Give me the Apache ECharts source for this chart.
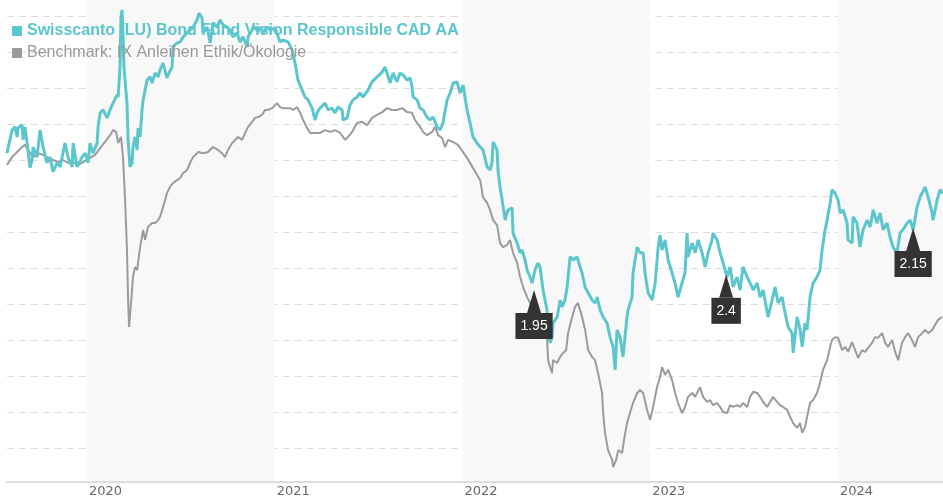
<!DOCTYPE html>
<html>
<head>
<meta charset="utf-8">
<script src="https://cdn.jsdelivr.net/npm/echarts@6/dist/echarts.min.js"></script>
<style>
html, body { margin: 0; padding: 0; background: #fff; }
#main { width: 943px; height: 500px; }
</style>
</head>
<body>
<div id="main"></div>
<script>
// dates as decimal years, values as indexed performance (no y labels in the original)
var fundName = 'Swisscanto (LU) Bond Fund Vision Responsible CAD AA';
var benchName = 'Benchmark: IX Anleihen Ethik/Ökologie';

var fund = [
  [2019.574,9.19],[2019.601,9.83],[2019.617,9.92],[2019.628,9.64],[2019.633,9.89],[2019.654,9.97],[2019.660,9.56],[2019.670,9.92],[2019.681,9.47],[2019.697,8.78],[2019.707,9.00],[2019.713,9.36],[2019.734,9.08],[2019.750,9.83],[2019.766,9.36],[2019.787,8.92],[2019.803,9.08],[2019.819,8.67],[2019.841,8.92],[2019.857,8.81],[2019.883,9.47],[2019.899,9.08],[2019.921,8.81],[2019.926,9.47],[2019.947,8.81],[2019.974,9.08],[2019.990,9.19],
  [2020.006,8.92],[2020.016,9.47],[2020.032,9.19],[2020.054,9.47],[2020.059,9.92],[2020.070,10.31],[2020.086,10.39],[2020.107,10.17],[2020.123,10.39],[2020.139,10.58],[2020.160,10.81],[2020.166,10.75],[2020.176,11.58],[2020.181,12.97],[2020.187,13.17],[2020.197,11.58],[2020.213,10.58],[2020.219,9.56],[2020.229,8.81],[2020.240,8.92],[2020.245,9.36],[2020.256,9.64],[2020.267,9.28],[2020.272,9.89],[2020.283,9.64],[2020.293,10.39],[2020.299,10.67],[2020.320,11.22],[2020.336,11.31],[2020.347,11.14],[2020.363,11.42],[2020.379,11.31],[2020.389,11.50],
  [2020.405,11.69],[2020.426,11.28],[2020.432,11.36],[2020.453,11.58],[2020.458,12.14],[2020.480,12.25],[2020.496,12.28],[2020.512,12.42],[2020.533,12.53],[2020.549,12.61],[2020.565,12.69],[2020.586,12.89],[2020.597,13.08],[2020.613,12.94],[2020.618,12.53],[2020.640,12.69],[2020.656,12.25],[2020.671,12.81],[2020.693,12.69],[2020.709,12.89],[2020.725,12.75],[2020.746,12.69],[2020.762,12.61],[2020.778,12.42],[2020.799,12.53],[2020.815,12.28],[2020.831,12.42],[2020.853,12.14],[2020.858,12.42],[2020.879,12.61],[2020.895,12.69],[2020.911,12.56],[2020.922,12.69],[2020.938,12.53],[2020.959,12.69],[2020.975,12.61],
  [2021.002,12.67],[2021.018,12.42],[2021.028,12.28],[2021.044,12.33],[2021.071,12.28],[2021.092,12.06],[2021.108,11.69],[2021.124,11.22],[2021.146,10.94],[2021.161,10.75],[2021.177,10.67],[2021.199,10.44],[2021.215,10.11],[2021.225,10.31],[2021.241,10.44],
  [2021.268,10.58],[2021.284,10.39],[2021.305,10.44],[2021.321,10.31],[2021.337,10.47],[2021.359,10.39],[2021.364,10.11],[2021.385,10.17],[2021.401,10.53],[2021.417,10.67],[2021.438,10.75],[2021.454,10.86],[2021.470,10.75],[2021.497,10.94],[2021.518,11.17],[2021.545,11.31],[2021.572,11.44],[2021.588,11.58],[2021.604,11.31],[2021.614,11.14],[2021.630,11.42],[2021.651,11.17],[2021.667,11.42],[2021.683,11.36],[2021.705,11.22],[2021.721,11.28],[2021.731,11.03],[2021.737,10.75],[2021.758,10.67],[2021.774,10.44],[2021.790,10.39],[2021.811,10.19],[2021.827,10.11],[2021.843,10.19],[2021.865,9.92],[2021.880,9.83],[2021.896,10.03],[2021.918,10.67],[2021.934,10.86],[2021.950,11.14],[2021.971,11.17],[2021.987,10.86],
  [2022.003,11.08],[2022.024,10.39],[2022.040,10.03],[2022.056,9.64],[2022.078,9.47],[2022.094,9.36],
  [2022.109,9.28],[2022.131,8.81],[2022.147,8.72],[2022.157,8.92],[2022.163,9.50],[2022.184,9.28],[2022.189,8.72],[2022.200,8.25],[2022.211,7.89],[2022.227,7.33],[2022.237,7.53],[2022.243,7.61],[2022.264,7.67],[2022.269,6.97],[2022.291,6.69],[2022.307,6.42],[2022.317,6.50],[2022.333,6.22],[2022.344,5.94],[2022.360,5.75],[2022.370,5.58],[2022.386,5.94],[2022.402,6.14],[2022.413,6.03],[2022.429,5.39],[2022.450,4.83],[2022.456,4.28],[2022.466,3.92],[2022.477,4.08],[2022.482,4.47],[2022.504,4.64],[2022.520,5.11],[2022.530,4.92],[2022.546,5.11],[2022.557,5.47],[2022.573,6.31],[2022.589,6.22],[2022.610,6.31],[2022.626,6.03],[2022.637,5.86],[2022.653,5.47],[2022.669,5.31],[2022.690,5.11],[2022.706,5.03],[2022.717,5.19],[2022.733,4.83],[2022.749,4.64],[2022.770,4.47],[2022.786,4.08],[2022.802,3.81],[2022.813,3.17],[2022.823,4.28],[2022.839,4.08],[2022.855,3.53],[2022.876,4.64],[2022.882,4.83],[2022.903,5.19],[2022.908,5.86],[2022.930,6.58],[2022.946,6.42],
  [2022.962,6.42],[2022.972,5.86],[2022.988,5.31],[2023.010,5.11],[2023.026,5.58],[2023.042,6.58],[2023.052,6.92],[2023.063,6.50],[2023.079,6.78],[2023.095,6.22],[2023.116,5.86],[2023.132,5.58],[2023.148,5.19],[2023.169,5.58],[2023.185,5.86],[2023.196,6.97],[2023.201,6.31],[2023.223,6.69],[2023.239,6.42],[2023.255,6.78],[2023.276,6.42],[2023.292,6.03],[2023.308,6.42],[2023.329,6.78],[2023.334,6.97],[2023.356,6.78],[2023.372,6.42],[2023.388,6.14],[2023.409,5.75],[2023.425,6.03],[2023.441,5.47],[2023.462,5.75],[2023.478,5.39],[2023.494,6.03],[2023.516,5.75],[2023.532,5.58],[2023.548,5.39],[2023.569,5.58],[2023.585,5.19],[2023.601,5.39],[2023.627,4.64],[2023.649,5.11],[2023.665,5.47],[2023.681,5.03],[2023.702,5.19],[2023.718,4.75],[2023.734,4.36],[2023.755,4.19],[2023.761,3.64],[2023.782,4.64],[2023.798,4.28],
  [2023.809,3.81],[2023.824,4.47],[2023.835,4.28],[2023.851,5.19],[2023.867,5.58],[2023.888,5.75],[2023.904,5.94],[2023.915,6.50],[2023.931,7.06],[2023.942,7.33],[2023.958,7.81],[2023.968,8.17],[2023.984,8.08],[2024.000,7.89],[2024.011,7.53],[2024.027,7.61],[2024.048,7.25],[2024.053,6.78],[2024.075,6.69],[2024.080,7.42],[2024.101,7.25],[2024.117,6.58],[2024.133,7.06],[2024.155,7.33],[2024.171,7.14],[2024.187,7.61],[2024.208,7.25],[2024.224,7.53],[2024.240,7.06],[2024.261,7.25],[2024.277,6.86],[2024.293,6.58],[2024.314,6.42],[2024.330,6.97],[2024.346,7.06],[2024.368,7.25],[2024.384,7.33],[2024.400,7.06],[2024.421,7.69],[2024.437,7.97],[2024.464,8.25],[2024.480,7.97],[2024.501,7.53],[2024.506,7.33],[2024.528,7.89],[2024.543,8.17],[2024.559,8.08]
];

var bench = [
  [2019.574,8.86],[2019.601,9.08],[2019.628,9.22],[2019.654,9.36],[2019.670,9.42],[2019.686,9.28],[2019.713,9.08],[2019.739,9.19],[2019.766,9.14],[2019.793,9.06],[2019.819,9.00],[2019.846,8.94],[2019.873,9.00],[2019.899,8.92],[2019.926,8.94],[2019.952,8.86],[2019.979,8.94],
  [2020.016,9.06],[2020.043,9.14],[2020.070,9.33],[2020.096,9.50],[2020.123,9.69],[2020.139,9.83],[2020.155,9.78],[2020.166,9.47],[2020.181,9.64],[2020.192,9.08],[2020.203,7.89],[2020.213,6.50],[2020.219,5.11],[2020.224,4.36],[2020.235,5.06],[2020.245,5.75],[2020.256,6.03],[2020.267,5.94],[2020.283,6.58],[2020.299,7.06],[2020.309,6.78],[2020.325,7.14],[2020.347,7.25],[2020.363,7.25],[2020.379,7.33],[2020.389,7.42],
  [2020.405,7.69],[2020.426,8.08],[2020.442,8.25],[2020.458,8.36],[2020.480,8.44],[2020.496,8.50],[2020.512,8.64],[2020.533,8.72],[2020.549,8.92],[2020.565,9.08],[2020.592,9.22],[2020.618,9.19],[2020.645,9.22],[2020.671,9.36],[2020.698,9.28],[2020.719,9.19],[2020.735,9.08],[2020.751,9.28],[2020.773,9.47],[2020.789,9.56],[2020.805,9.64],[2020.826,9.56],[2020.842,9.75],[2020.858,9.92],[2020.879,10.06],[2020.895,10.17],[2020.911,10.19],[2020.932,10.25],[2020.948,10.39],[2020.964,10.39],[2020.986,10.44],
  [2021.012,10.58],[2021.028,10.47],[2021.044,10.44],[2021.066,10.44],[2021.082,10.44],[2021.098,10.39],[2021.119,10.47],[2021.135,10.31],[2021.151,10.11],[2021.172,9.89],[2021.188,9.75],[2021.204,9.75],[2021.225,9.75],[2021.241,9.75],
  [2021.268,9.83],[2021.295,9.78],[2021.321,9.83],[2021.348,9.75],[2021.375,9.56],[2021.390,9.64],[2021.412,9.78],[2021.438,10.03],[2021.465,10.06],[2021.492,9.97],[2021.518,10.17],[2021.545,10.25],[2021.572,10.33],[2021.598,10.44],[2021.625,10.39],[2021.651,10.39],[2021.678,10.44],[2021.705,10.33],[2021.731,10.31],[2021.747,10.11],[2021.774,9.92],[2021.790,9.78],[2021.811,9.69],[2021.838,9.78],[2021.854,9.92],[2021.870,9.69],[2021.891,9.61],[2021.907,9.36],[2021.923,9.56],[2021.950,9.50],[2021.976,9.42],
  [2022.003,9.22],[2022.024,9.06],[2022.040,8.92],[2022.056,8.78],[2022.078,8.58],[2022.094,8.44],
  [2022.109,7.97],[2022.131,7.81],[2022.147,7.61],[2022.163,7.33],[2022.184,7.19],[2022.200,6.69],[2022.216,6.58],[2022.237,6.64],[2022.253,6.78],[2022.269,6.42],[2022.291,6.14],[2022.307,5.75],[2022.323,5.47],[2022.344,5.19],[2022.360,5.03],[2022.376,4.83],[2022.397,4.64],[2022.413,4.56],[2022.429,4.36],[2022.450,4.08],[2022.456,3.44],[2022.466,3.25],[2022.477,3.08],[2022.482,3.44],[2022.504,3.36],[2022.520,3.53],[2022.536,3.64],[2022.552,3.72],[2022.562,4.19],[2022.584,4.64],[2022.599,4.92],[2022.615,5.03],[2022.637,4.64],[2022.653,4.28],[2022.669,3.72],[2022.690,3.53],[2022.706,3.44],[2022.722,3.08],[2022.743,2.53],[2022.749,1.97],[2022.759,1.42],[2022.775,0.94],[2022.797,0.67],[2022.802,0.47],[2022.818,0.67],[2022.829,0.94],[2022.850,0.86],[2022.860,1.22],[2022.876,1.69],[2022.892,1.97],[2022.908,2.25],[2022.930,2.53],[2022.946,2.61],
  [2022.962,2.53],[2022.983,2.06],[2022.999,1.78],[2023.015,2.14],[2023.036,2.69],[2023.052,2.97],[2023.063,3.25],[2023.079,3.03],[2023.095,3.17],[2023.116,2.89],[2023.132,2.53],[2023.148,2.25],[2023.169,1.97],[2023.185,2.14],[2023.201,2.42],[2023.223,2.53],[2023.239,2.42],[2023.265,2.69],[2023.281,2.42],[2023.303,2.28],[2023.319,2.33],[2023.334,2.19],[2023.356,2.25],[2023.372,2.14],[2023.388,2.00],[2023.409,1.97],[2023.425,2.19],[2023.441,2.14],[2023.462,2.19],[2023.478,2.14],[2023.494,2.25],[2023.516,2.14],[2023.532,2.42],[2023.548,2.56],[2023.569,2.53],[2023.585,2.42],[2023.601,2.28],[2023.622,2.14],[2023.638,2.28],[2023.654,2.42],[2023.675,2.28],[2023.691,2.19],[2023.707,2.14],[2023.729,2.06],[2023.745,1.86],[2023.761,1.69],[2023.782,1.56],[2023.798,1.69],
  [2023.809,1.42],[2023.824,1.58],[2023.835,1.86],[2023.851,2.25],[2023.867,2.33],[2023.888,2.53],[2023.904,2.81],[2023.920,3.17],[2023.942,3.44],[2023.958,3.81],[2023.968,4.00],[2023.984,4.08],[2024.000,4.06],[2024.022,3.72],[2024.038,3.81],[2024.053,3.67],[2024.075,3.94],[2024.091,3.72],[2024.107,3.50],[2024.128,3.72],[2024.144,3.67],[2024.160,3.78],[2024.181,3.92],[2024.197,4.08],[2024.213,4.06],[2024.235,4.19],[2024.251,3.92],[2024.267,3.81],[2024.288,4.00],[2024.304,3.67],[2024.320,3.44],[2024.341,3.92],[2024.357,4.08],[2024.373,4.19],[2024.394,4.00],[2024.410,3.81],[2024.426,4.08],[2024.448,4.19],[2024.464,4.28],[2024.480,4.19],[2024.501,4.28],[2024.517,4.42],[2024.533,4.56],[2024.554,4.64]
];

// distributions (Ausschüttungen)
var distDates = [2022.381, 2023.404, 2024.400];
var distValues = [5.39, 5.81, 7.11];
var distLabels = ['1.95', '2.4', '2.15'];

var startYear = 2019.574, endYear = 2024.559;
var yMax = 13.444;

var myChart = echarts.init(document.getElementById('main'));

var option = {
    animation: false,
    grid: { left: 7, right: 0, top: 0, bottom: 16 },
    legend: {
        left: 12,
        top: 23,
        padding: 0,
        orient: 'vertical',
        icon: 'rect',
        itemWidth: 10,
        itemHeight: 10,
        itemGap: 6,
        selectedMode: false,
        textStyle: { fontSize: 16, fontFamily: 'Liberation Sans' },
        data: [
            { name: fundName, textStyle: { color: '#5cc6cd', fontWeight: 'bold' } },
            { name: benchName, textStyle: { color: '#999999' } }
        ]
    },
    xAxis: {
        type: 'value',
        min: startYear,
        max: endYear,
        minInterval: 1,
        maxInterval: 1,
        offset: -2,
        axisLine: { lineStyle: { color: '#dddddd', width: 2 } },
        axisTick: { show: false },
        axisLabel: {
            showMinLabel: false,
            showMaxLabel: false,
            align: 'left',
            margin: 3,
            padding: [0, 0, 0, 2],
            color: '#666666',
            fontSize: 13,
            fontFamily: 'DejaVu Sans',
            formatter: function (v) { return String(Math.round(v)); }
        },
        splitLine: { show: false },
        splitArea: { show: true, areaStyle: { color: ['rgba(255,255,255,0)', '#f8f8f8'] } }
    },
    yAxis: {
        type: 'value',
        min: 0,
        max: yMax,
        interval: 1,
        axisLine: { show: false },
        axisTick: { show: false },
        axisLabel: { show: false },
        splitLine: { show: true, showMinLine: false, showMaxLine: false, lineStyle: { color: '#dddddd', type: [7, 5], width: 1 } }
    },
    series: [
        {
            name: benchName,
            type: 'line',
            data: bench,
            showSymbol: false,
            color: '#9b9b9b',
            lineStyle: { width: 2, color: '#9b9b9b' },
            z: 2
        },
        {
            name: fundName,
            type: 'line',
            data: fund,
            showSymbol: false,
            color: '#5cc6cd',
            lineStyle: { width: 3, color: '#5cc6cd' },
            z: 3
        },
        {
            name: 'Ausschüttung',
            type: 'scatter',
            silent: true,
            z: 5,
            data: distDates.map(function (d, i) { return [d, distValues[i], distLabels[i]]; }),
            symbol: 'path://M7,0 L14,23 L0,23 Z',
            symbolSize: [14, 23],
            symbolOffset: [0, 11.5],
            itemStyle: { color: '#333333', opacity: 1 },
            label: {
                show: true,
                position: 'bottom',
                distance: 0,
                formatter: function (p) { return p.value[2]; },
                color: '#ffffff',
                backgroundColor: '#333333',
                padding: [6, 5, 6, 5],
                fontSize: 14,
                fontFamily: 'Liberation Sans'
            }
        }
    ]
};
myChart.setOption(option);
</script>
</body>
</html>
